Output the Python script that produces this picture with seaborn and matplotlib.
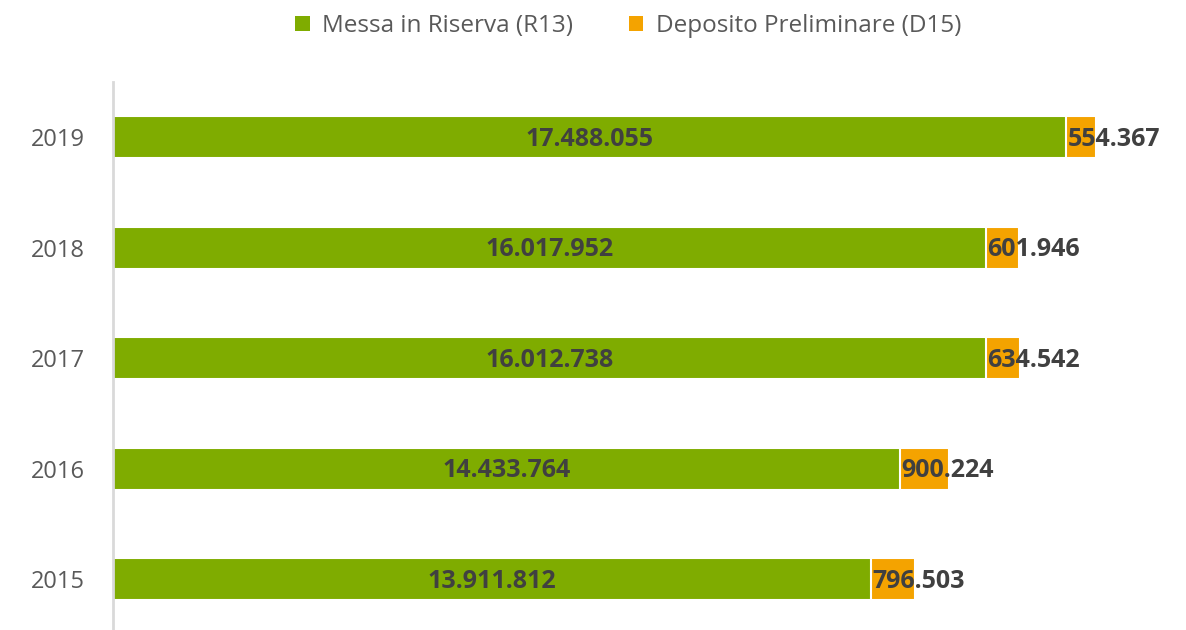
import matplotlib
matplotlib.use("Agg")
import matplotlib.pyplot as plt
import seaborn as sns
import pandas as pd
from matplotlib.patches import Patch

years = ["2019", "2018", "2017", "2016", "2015"]
r13 = [17488055, 16017952, 16012738, 14433764, 13911812]
d15 = [554367, 601946, 634542, 900224, 796503]
series_names = ["Messa in Riserva (R13)", "Deposito Preliminare (D15)"]

GREEN = "#7FAC00"
ORANGE = "#F4A300"

def fmt(v):
    return f"{v:,}".replace(",", ".")

sns.set_theme(style="white")
plt.rcParams["font.family"] = ["Open Sans", "DejaVu Sans"]

df = pd.DataFrame({"year": years, "r13": r13, "d15": d15})
df["total"] = df["r13"] + df["d15"]

fig = plt.figure(figsize=(11.86, 6.3), dpi=100)
ax = fig.add_axes([113 / 1186, -4.5 / 630, 1 - 113 / 1186, (630 - 82 + 4.5) / 630])

sns.barplot(data=df, x="total", y="year", order=years, orient="h", color=ORANGE,
            saturation=1, width=0.38, edgecolor="white", linewidth=1.5, ax=ax)
sns.barplot(data=df, x="r13", y="year", order=years, orient="h", color=GREEN,
            saturation=1, width=0.38, edgecolor="white", linewidth=1.5, ax=ax)

ax.set_xlim(0, 19.69e6)
ax.set_xlabel("")
ax.set_ylabel("")
ax.set_xticks([])
for s in ["top", "right", "bottom"]:
    ax.spines[s].set_visible(False)
ax.spines["left"].set_color("#D9D9D9")
ax.spines["left"].set_linewidth(2)
ax.tick_params(axis="y", length=0, pad=20, labelsize=17, labelcolor="#595959")
for lab in ax.get_yticklabels():
    lab.set_y(lab.get_position()[1])

for i, (a, b) in enumerate(zip(r13, d15)):
    ax.text(a / 2, i + 0.02, fmt(a), ha="center", va="center", fontsize=18,
            fontweight="bold", color="#404040")
    ax.text(a + 0.03e6, i + 0.02, fmt(b), ha="left", va="center", fontsize=18,
            fontweight="bold", color="#404040")

handles = [Patch(facecolor=GREEN, edgecolor="none"), Patch(facecolor=ORANGE, edgecolor="none")]
fig.legend(handles, series_names, loc="center", bbox_to_anchor=(628 / 1186, 1 - 26 / 630),
           ncol=2, frameon=False, fontsize=17.5, labelcolor="#595959",
           handlelength=0.6, handleheight=0.6, handletextpad=0.5, columnspacing=2.3)

fig.savefig("out.png", dpi=100)
